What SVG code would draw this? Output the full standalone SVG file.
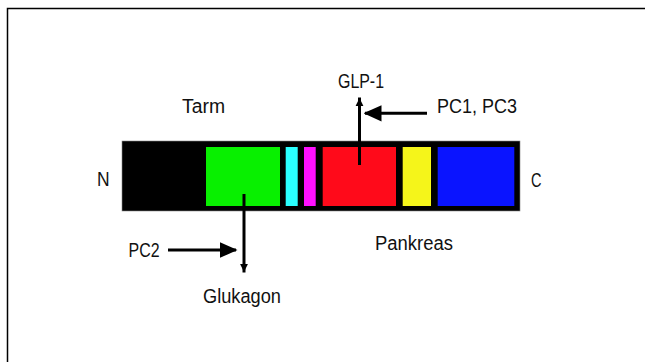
<svg xmlns="http://www.w3.org/2000/svg" width="645" height="362" viewBox="0 0 645 362">
<style>
text{font-family:"Liberation Sans",Arial,sans-serif;font-size:20px;fill:#111;}
.ln{stroke:#000;stroke-width:3;fill:none;}
</style>
<defs>
<marker id="big" markerWidth="6" markerHeight="6" refX="5.5" refY="3" orient="auto" markerUnits="strokeWidth"><path d="M0,0.3 L6,3 L0,5.7 Z" fill="#000"/></marker>
<marker id="small" markerWidth="3" markerHeight="3" refX="2.8" refY="1.5" orient="auto" markerUnits="strokeWidth"><path d="M0,0.2 L2.6,1.5 L0,2.8 Z" fill="#000"/></marker>
</defs>
<rect x="0" y="0" width="645" height="362" fill="#fff"/>
<path d="M7.5,362 V8.5 H645" fill="none" stroke="#000" stroke-width="1.5"/>
<g id="bar">
<rect x="122" y="141" width="398" height="70" fill="#000" stroke="#888" stroke-width="0.6"/>
<rect x="206" y="147" width="74" height="59" fill="#08f000"/>
<rect x="285.7" y="147" width="12" height="59" fill="#2affff"/>
<rect x="304" y="147" width="11.7" height="59" fill="#ff10ff"/>
<rect x="322.7" y="147" width="73.3" height="59" fill="#ff0a1a"/>
<rect x="402.7" y="147" width="28.3" height="59" fill="#f5f51a"/>
<rect x="437.7" y="147" width="76.6" height="59" fill="#0a14ff"/>
</g>
<g id="labels">
<text x="338" y="87.5" textLength="46" lengthAdjust="spacingAndGlyphs">GLP-1</text>
<text x="182" y="113" textLength="43" lengthAdjust="spacingAndGlyphs">Tarm</text>
<text x="437" y="113" textLength="80" lengthAdjust="spacingAndGlyphs">PC1, PC3</text>
<text x="97" y="186" textLength="12.6" lengthAdjust="spacingAndGlyphs">N</text>
<text x="531" y="186.5" textLength="10.5" lengthAdjust="spacingAndGlyphs">C</text>
<text x="128.5" y="256.5" textLength="31" lengthAdjust="spacingAndGlyphs">PC2</text>
<text x="375" y="250" textLength="78" lengthAdjust="spacingAndGlyphs">Pankreas</text>
<text x="203" y="303" textLength="78" lengthAdjust="spacingAndGlyphs">Glukagon</text>
</g>
<g id="connectors">
<line class="ln" x1="359.5" y1="165" x2="359.5" y2="97.5" marker-end="url(#small)"/>
<line class="ln" x1="427" y1="113.3" x2="365" y2="113.3" marker-end="url(#big)"/>
<line class="ln" x1="244" y1="194" x2="244" y2="272.5" marker-end="url(#small)"/>
<line class="ln" x1="168" y1="250" x2="236" y2="250" marker-end="url(#big)"/>
</g>
</svg>
